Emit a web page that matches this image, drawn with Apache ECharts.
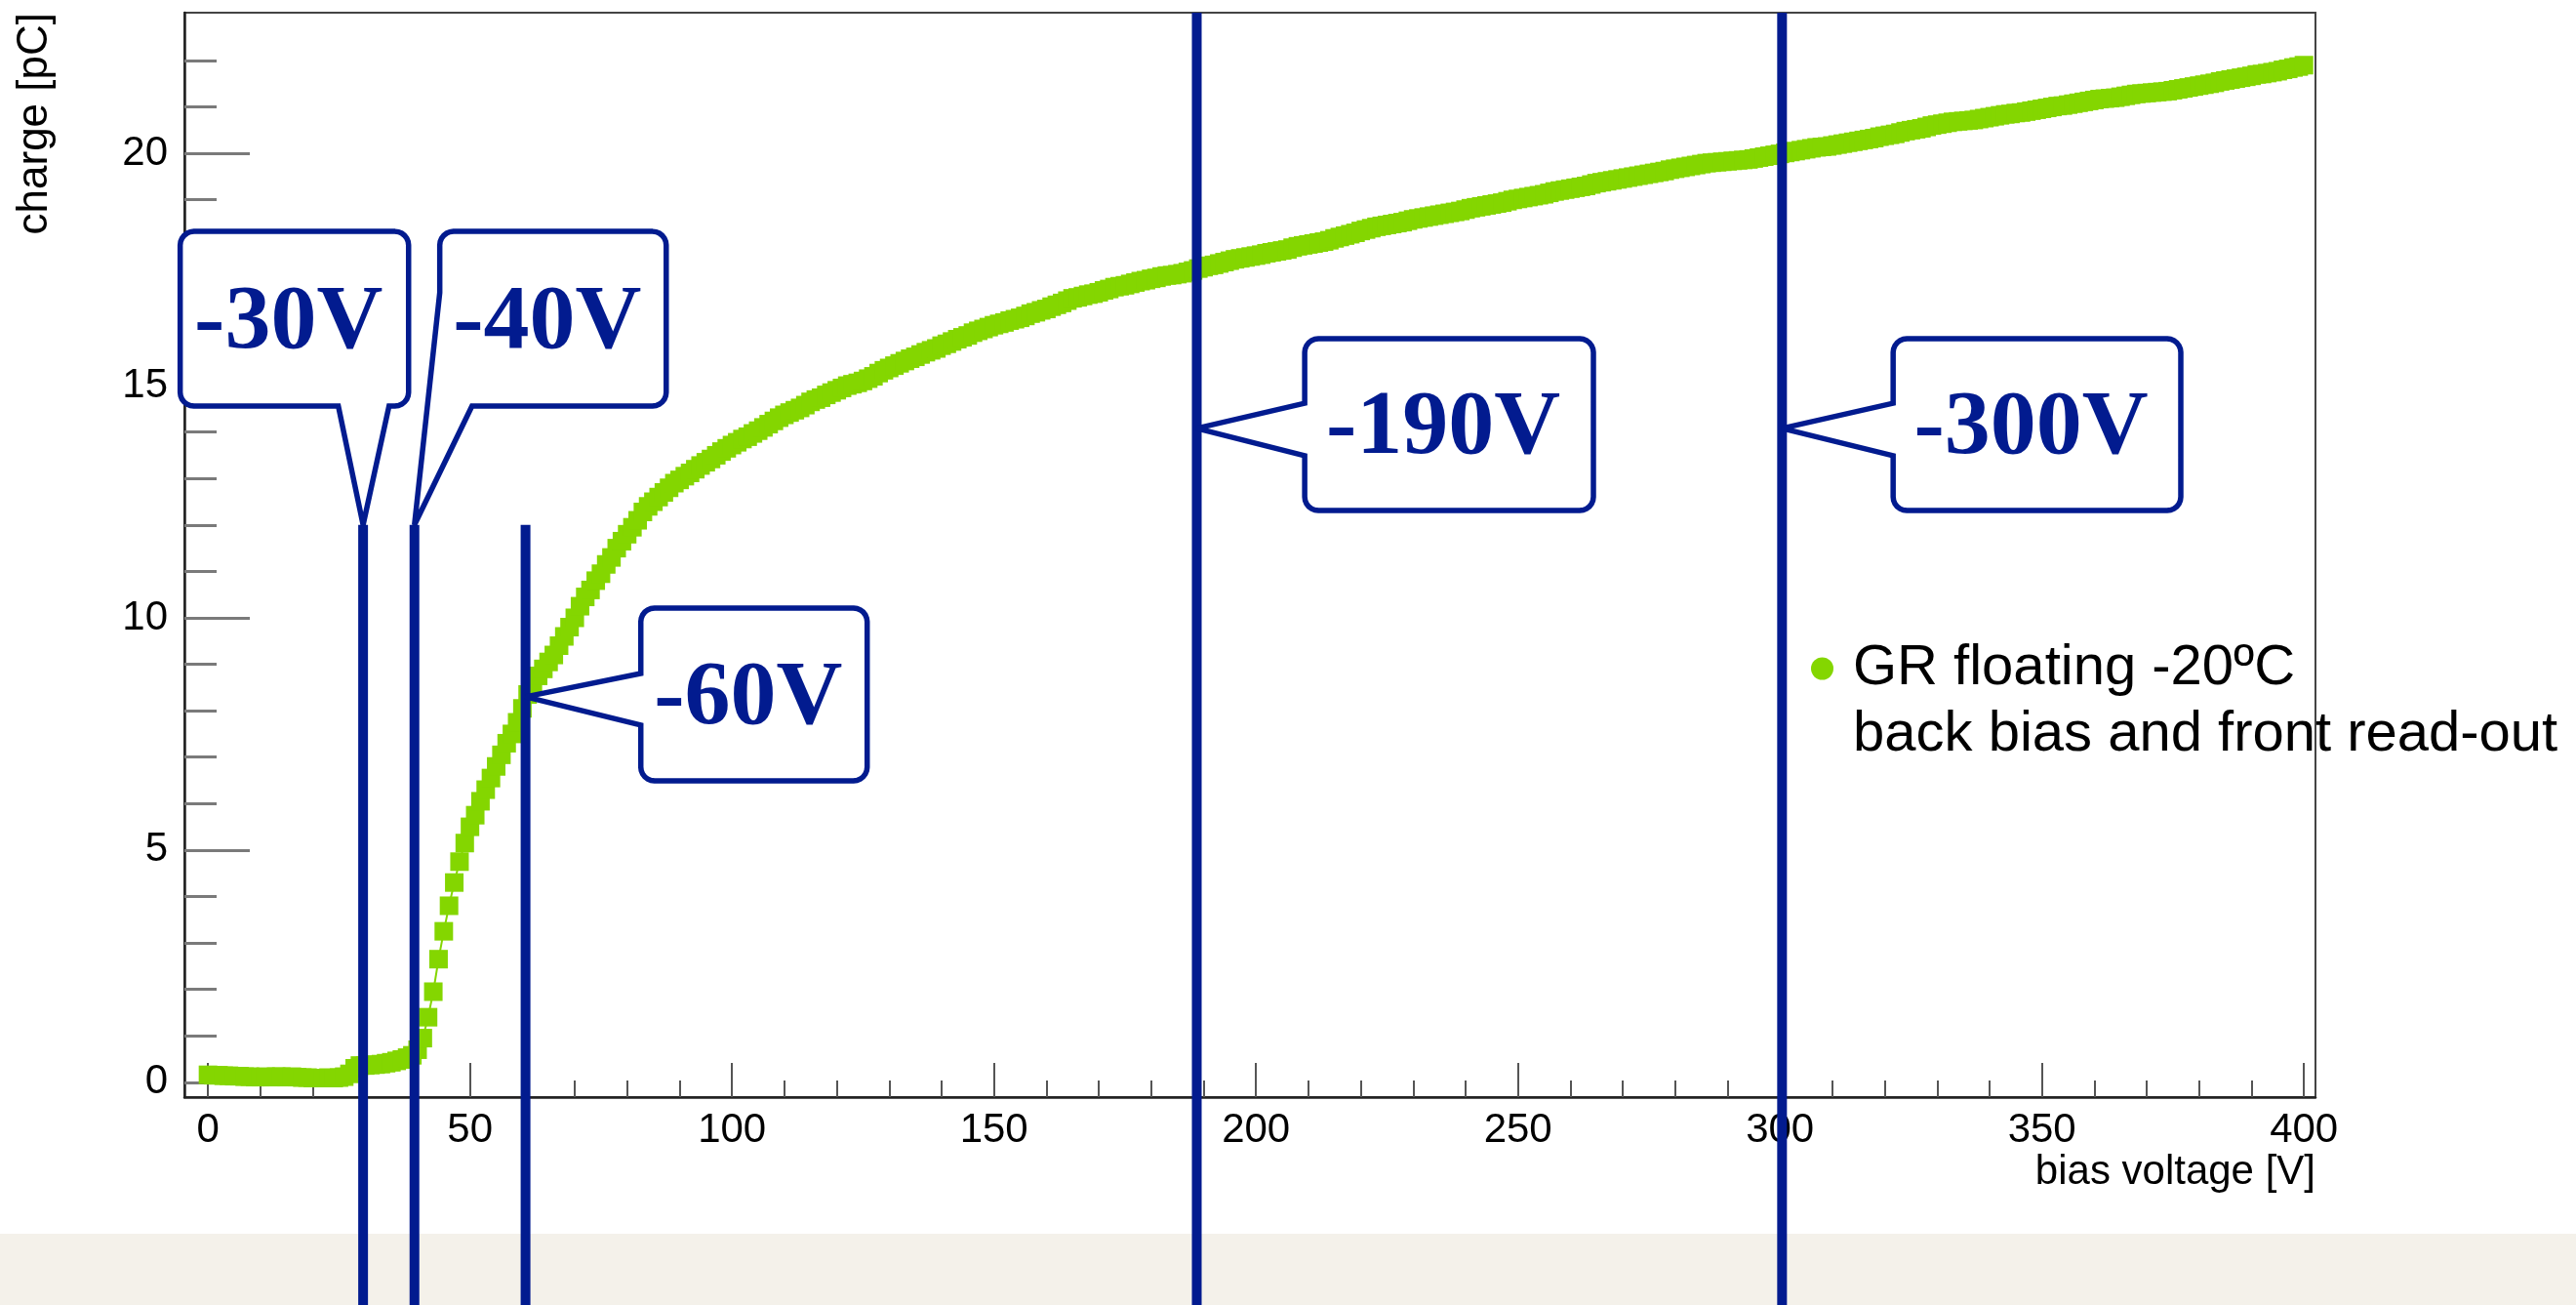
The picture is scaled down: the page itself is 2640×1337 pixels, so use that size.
<!DOCTYPE html>
<html>
<head>
<meta charset="utf-8">
<script src="https://cdn.jsdelivr.net/npm/echarts@6/dist/echarts.min.js"></script>
<style>
html,body{margin:0;padding:0;background:#ffffff;}
#chart{width:2640px;height:1337px;}
</style>
</head>
<body>
<div id="chart"></div>
<script>
// ---------------- data ----------------
const seriesName = 'GR floating -20ºC';
const legendSubtitle = 'back bias and front read-out';
const xAxisTitle = 'bias voltage [V]';
const yAxisTitle = 'charge [pC]';

const xMajorTicks = [0, 50, 100, 150, 200, 250, 300, 350, 400];
const xMinorTicks = [10, 20, 30, 40, 60, 70, 80, 90, 110, 120, 130, 140, 160, 170, 180, 190,
  210, 220, 230, 240, 260, 270, 280, 290, 310, 320, 330, 340, 360, 370, 380, 390];
const yMajorTicks = [0, 5, 10, 15, 20];
const yMinorTicks = [1, 2, 3, 4, 6, 7, 8, 9, 11, 12, 13, 14, 16, 17, 18, 19, 21, 22];

// measured every 1 V from 0 V to 400 V
const biasVoltage = Array.from({ length: 401 }, (_, i) => i);
const charge = [
  0.16, 0.15, 0.15, 0.14, 0.14, 0.13, 0.13, 0.12, 0.12, 0.11,
  0.11, 0.12, 0.11, 0.12, 0.12, 0.11, 0.12, 0.11, 0.10, 0.10,
  0.09, 0.09, 0.09, 0.10, 0.09, 0.10, 0.12, 0.18, 0.30, 0.36,
  0.36, 0.37, 0.38, 0.39, 0.41, 0.43, 0.46, 0.49, 0.53, 0.58,
  0.70, 0.95, 1.40, 1.95, 2.65, 3.25, 3.80, 4.30, 4.75, 5.15,
  5.50, 5.75, 6.05, 6.30, 6.55, 6.80, 7.05, 7.30, 7.50, 7.75,
  8.05, 8.35, 8.55, 8.75, 8.90, 9.05, 9.20, 9.40, 9.60, 9.80,
  10.00, 10.25, 10.45, 10.60, 10.80, 10.95, 11.15, 11.30, 11.50, 11.65,
  11.80, 11.95, 12.10, 12.28, 12.40, 12.50, 12.60, 12.70, 12.80, 12.90,
  12.97, 13.05, 13.12, 13.20, 13.28, 13.35, 13.42, 13.50, 13.58, 13.65,
  13.72, 13.78, 13.85, 13.90, 13.97, 14.03, 14.10, 14.17, 14.24, 14.31,
  14.37, 14.42, 14.47, 14.52, 14.58, 14.65, 14.70, 14.74, 14.80, 14.85,
  14.90, 14.95, 15.00, 15.03, 15.06, 15.10, 15.15, 15.20, 15.27, 15.33,
  15.38, 15.43, 15.48, 15.53, 15.58, 15.62, 15.67, 15.72, 15.76, 15.80,
  15.86, 15.90, 15.95, 16.00, 16.04, 16.08, 16.14, 16.18, 16.22, 16.26,
  16.30, 16.33, 16.36, 16.40, 16.43, 16.46, 16.50, 16.55, 16.58, 16.62,
  16.65, 16.70, 16.74, 16.78, 16.83, 16.88, 16.90, 16.93, 16.96, 16.98,
  17.01, 17.05, 17.08, 17.12, 17.14, 17.16, 17.19, 17.22, 17.25, 17.27,
  17.30, 17.32, 17.35, 17.37, 17.38, 17.40, 17.42, 17.45, 17.48, 17.52,
  17.55, 17.58, 17.60, 17.63, 17.66, 17.69, 17.72, 17.74, 17.76, 17.78,
  17.80, 17.82, 17.85, 17.87, 17.89, 17.91, 17.93, 17.97, 18.00, 18.02,
  18.04, 18.06, 18.08, 18.10, 18.13, 18.17, 18.20, 18.23, 18.26, 18.29,
  18.33, 18.36, 18.39, 18.42, 18.44, 18.46, 18.48, 18.50, 18.52, 18.55,
  18.58, 18.60, 18.62, 18.64, 18.66, 18.68, 18.70, 18.72, 18.74, 18.76,
  18.79, 18.82, 18.84, 18.86, 18.88, 18.90, 18.92, 18.94, 18.97, 19.00,
  19.02, 19.04, 19.06, 19.08, 19.10, 19.12, 19.15, 19.18, 19.20, 19.22,
  19.24, 19.26, 19.28, 19.30, 19.33, 19.36, 19.38, 19.40, 19.42, 19.44,
  19.46, 19.48, 19.50, 19.52, 19.54, 19.56, 19.58, 19.60, 19.62, 19.65,
  19.67, 19.69, 19.71, 19.73, 19.75, 19.77, 19.79, 19.80, 19.81, 19.82,
  19.83, 19.84, 19.85, 19.86, 19.87, 19.89, 19.91, 19.93, 19.95, 19.97,
  19.99, 20.01, 20.03, 20.05, 20.07, 20.09, 20.11, 20.13, 20.14, 20.15,
  20.17, 20.19, 20.21, 20.23, 20.25, 20.27, 20.29, 20.31, 20.33, 20.36,
  20.38, 20.40, 20.42, 20.45, 20.48, 20.50, 20.52, 20.54, 20.57, 20.60,
  20.62, 20.64, 20.66, 20.68, 20.69, 20.70, 20.71, 20.72, 20.74, 20.76,
  20.78, 20.80, 20.82, 20.84, 20.85, 20.87, 20.88, 20.90, 20.92, 20.94,
  20.96, 20.98, 21.00, 21.02, 21.03, 21.05, 21.07, 21.09, 21.11, 21.13,
  21.15, 21.17, 21.18, 21.19, 21.20, 21.22, 21.24, 21.26, 21.28, 21.29,
  21.30, 21.31, 21.32, 21.33, 21.34, 21.36, 21.38, 21.40, 21.42, 21.44,
  21.46, 21.48, 21.50, 21.52, 21.55, 21.57, 21.59, 21.61, 21.63, 21.65,
  21.67, 21.70, 21.71, 21.73, 21.75, 21.77, 21.80, 21.82, 21.85, 21.87,
  21.90
];

// annotation markers (bias voltages of the vertical lines)
const markerVoltages = [29.6, 39.4, 60.6, 188.7, 300.4];
const markerLabels = ['-30V', '-40V', '-60V', '-190V', '-300V'];
const markerTipCharge = [12.0, 12.0, 8.3, 14.08, 14.08];
const markerLineStart = [12.0, 12.0, 12.0, null, null]; // null: from top of frame

// ---------------- layout (callout boxes, in axis units) ----------------
const calloutLayout = [
  { x0: -5.31, x1: 38.28, y0: 14.56, y1: 18.32, side: 'bottom', a: 24.87, b: 34.55 },
  { x0: 44.23, x1: 87.45, y0: 14.56, y1: 18.32, side: 'corner', a: 50.38, b: 17.0 },
  { x0: 82.6, x1: 125.8, y0: 6.49, y1: 10.21, side: 'left', a: 7.69, b: 8.8 },
  { x0: 209.3, x1: 264.4, y0: 12.31, y1: 16.01, side: 'left', a: 13.49, b: 14.62 },
  { x0: 321.6, x1: 376.5, y0: 12.31, y1: 16.01, side: 'left', a: 13.49, b: 14.62 }
];

const GREEN = '#84d600';
const NAVY = '#021b8f';
const SANS = '"Liberation Sans", Arial, Helvetica, sans-serif';
const SERIF = '"Liberation Serif", "Times New Roman", serif';

function txtStyle(text, font, fill, align, valign) {
  return { text: text, font: font, fill: fill, textFill: fill,
    align: align, textAlign: align, verticalAlign: valign, textVerticalAlign: valign };
}

function renderCallout(params, api) {
  const i = params.dataIndex;
  const v = api.value(0), q = api.value(1);
  const tip = api.coord([v, q]);
  const cs = params.coordSys;
  const H = api.getHeight();
  const start = markerLineStart[i];
  const topY = start == null ? cs.y : api.coord([v, start])[1];
  const lay = calloutLayout[i];
  const p0 = api.coord([lay.x0, lay.y1]);
  const p1 = api.coord([lay.x1, lay.y0]);
  const L = p0[0], T = p0[1], R = p1[0], B = p1[1];
  const r = 14;
  const pts = [];
  const corner = (cx, cy, a0, a1) => {
    for (let k = 0; k <= 6; k++) {
      const a = a0 + (a1 - a0) * k / 6;
      pts.push([cx + r * Math.cos(a), cy + r * Math.sin(a)]);
    }
  };
  corner(R - r, T + r, -Math.PI / 2, 0);
  corner(R - r, B - r, 0, Math.PI / 2);
  if (lay.side === 'bottom') {
    pts.push([api.coord([lay.b, 0])[0], B], tip, [api.coord([lay.a, 0])[0], B]);
    corner(L + r, B - r, Math.PI / 2, Math.PI);
  } else if (lay.side === 'corner') {
    pts.push([api.coord([lay.a, 0])[0], B], tip, [L, api.coord([0, lay.b])[1]]);
  } else {
    corner(L + r, B - r, Math.PI / 2, Math.PI);
    pts.push([L, api.coord([0, lay.a])[1]], tip, [L, api.coord([0, lay.b])[1]]);
  }
  corner(L + r, T + r, Math.PI, 1.5 * Math.PI);

  return {
    type: 'group',
    children: [
      { type: 'rect', shape: { x: tip[0] - 5, y: topY, width: 10, height: H - topY },
        style: { fill: NAVY } },
      { type: 'polygon', shape: { points: pts },
        style: { fill: '#ffffff', stroke: NAVY, lineWidth: 5.5, lineJoin: 'miter', miterLimit: 4 } },
      { type: 'text', x: (L + R) / 2 - 6, y: (T + B) / 2 + 5,
        style: txtStyle(markerLabels[i], 'bold 94px ' + SERIF, NAVY, 'center', 'middle') }
    ]
  };
}

const chart = echarts.init(document.getElementById('chart'), null, { renderer: 'canvas' });

const axisFont = { fontSize: 42, fontFamily: SANS, color: '#000000' };

chart.setOption({
  animation: false,
  backgroundColor: '#ffffff',
  grid: {
    left: 189, right: 267, top: 13, bottom: 213,
    show: true, borderColor: '#444444', borderWidth: 2, backgroundColor: 'transparent',
    outerBoundsMode: 'none'
  },
  legend: {
    data: [seriesName],
    left: 1856, top: 656, padding: 0,
    icon: 'circle', itemWidth: 23, itemHeight: 23,
    selectedMode: false,
    textStyle: { fontSize: 58, fontFamily: SANS, color: '#000000', padding: [0, 0, 0, 15] }
  },
  xAxis: [
    {
      type: 'value', min: -4.5, max: 402.2, position: 'bottom',
      axisLine: { show: true, onZero: false, lineStyle: { color: '#222222', width: 2.5 } },
      axisTick: { show: true, inside: true, length: 35, customValues: xMajorTicks,
        lineStyle: { color: '#555555', width: 2 } },
      axisLabel: Object.assign({ customValues: xMajorTicks, margin: 13 }, axisFont),
      splitLine: { show: false }
    },
    {
      type: 'value', min: -4.5, max: 402.2, position: 'bottom',
      axisLine: { show: false, onZero: false },
      axisTick: { show: true, inside: true, length: 17, customValues: xMinorTicks,
        lineStyle: { color: '#555555', width: 2 } },
      axisLabel: { show: false },
      splitLine: { show: false }
    }
  ],
  yAxis: [
    {
      type: 'value', min: -0.32, max: 23.03, position: 'left',
      axisLine: { show: true, onZero: false, lineStyle: { color: '#222222', width: 2.5 } },
      axisTick: { show: true, inside: true, length: 67, customValues: yMajorTicks,
        lineStyle: { color: '#7a7a7a', width: 3 } },
      axisLabel: Object.assign({ customValues: yMajorTicks, margin: 17 }, axisFont),
      splitLine: { show: false }
    },
    {
      type: 'value', min: -0.32, max: 23.03, position: 'left',
      axisLine: { show: false, onZero: false },
      axisTick: { show: true, inside: true, length: 33, customValues: yMinorTicks,
        lineStyle: { color: '#7a7a7a', width: 3 } },
      axisLabel: { show: false },
      splitLine: { show: false }
    }
  ],
  graphic: {
    elements: [
      { type: 'rect', z: -10, silent: true,
        shape: { x: 0, y: 1264, width: 2640, height: 73 }, style: { fill: '#f4f1ea' } },
      { type: 'text', x: 2373, y: 1201, silent: true,
        style: txtStyle(xAxisTitle, '42px ' + SANS, '#000000', 'right', 'middle') },
      { type: 'text', x: 36, y: 13, rotation: Math.PI / 2, silent: true,
        style: txtStyle(yAxisTitle, '44px ' + SANS, '#000000', 'right', 'middle') },
      { type: 'text', x: 1899, y: 753, silent: true,
        style: txtStyle(legendSubtitle, '58px ' + SANS, '#000000', 'left', 'middle') }
    ]
  },
  series: [
    {
      name: seriesName,
      type: 'line',
      xAxisIndex: 0, yAxisIndex: 0,
      data: biasVoltage.map((v, i) => [v, charge[i]]),
      symbol: 'rect', symbolSize: 19,
      showAllSymbol: true,
      itemStyle: { color: GREEN },
      lineStyle: { color: GREEN, width: 2 },
      emphasis: { disabled: true },
      z: 2
    },
    {
      name: 'annotations',
      type: 'custom',
      xAxisIndex: 0, yAxisIndex: 0,
      clip: false,
      z: 5,
      data: markerVoltages.map((v, i) => [v, markerTipCharge[i]]),
      encode: { x: 0, y: 1 },
      renderItem: renderCallout,
      silent: true
    }
  ]
});
</script>
</body>
</html>
